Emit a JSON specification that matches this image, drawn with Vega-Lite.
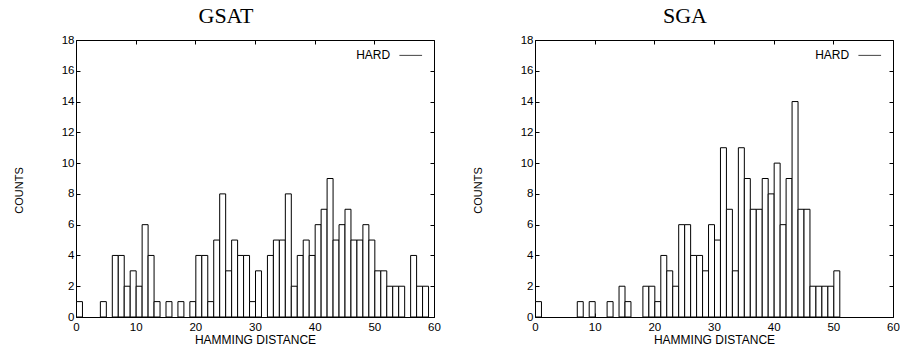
{
  "$schema": "https://vega.github.io/schema/vega-lite/v6.json",
  "background": "white",
  "padding": {"left": 12, "top": 4, "right": 0, "bottom": 0},
  "datasets": {
    "gsat": [
      {"d": 0, "n": 1}, {"d": 4, "n": 1}, {"d": 6, "n": 4}, {"d": 7, "n": 4}, {"d": 8, "n": 2},
      {"d": 9, "n": 3}, {"d": 10, "n": 2}, {"d": 11, "n": 6}, {"d": 12, "n": 4}, {"d": 13, "n": 1},
      {"d": 15, "n": 1}, {"d": 17, "n": 1}, {"d": 19, "n": 1}, {"d": 20, "n": 4}, {"d": 21, "n": 4},
      {"d": 22, "n": 1}, {"d": 23, "n": 5}, {"d": 24, "n": 8}, {"d": 25, "n": 3}, {"d": 26, "n": 5},
      {"d": 27, "n": 4}, {"d": 28, "n": 4}, {"d": 29, "n": 1}, {"d": 30, "n": 3}, {"d": 32, "n": 4},
      {"d": 33, "n": 5}, {"d": 34, "n": 5}, {"d": 35, "n": 8}, {"d": 36, "n": 2}, {"d": 37, "n": 4},
      {"d": 38, "n": 5}, {"d": 39, "n": 4}, {"d": 40, "n": 6}, {"d": 41, "n": 7}, {"d": 42, "n": 9},
      {"d": 43, "n": 5}, {"d": 44, "n": 6}, {"d": 45, "n": 7}, {"d": 46, "n": 5}, {"d": 47, "n": 5},
      {"d": 48, "n": 6}, {"d": 49, "n": 5}, {"d": 50, "n": 3}, {"d": 51, "n": 3}, {"d": 52, "n": 2},
      {"d": 53, "n": 2}, {"d": 54, "n": 2}, {"d": 56, "n": 4}, {"d": 57, "n": 2}, {"d": 58, "n": 2}
    ],
    "sga": [
      {"d": 0, "n": 1}, {"d": 7, "n": 1}, {"d": 9, "n": 1}, {"d": 12, "n": 1}, {"d": 14, "n": 2},
      {"d": 15, "n": 1}, {"d": 18, "n": 2}, {"d": 19, "n": 2}, {"d": 20, "n": 1}, {"d": 21, "n": 4},
      {"d": 22, "n": 3}, {"d": 23, "n": 2}, {"d": 24, "n": 6}, {"d": 25, "n": 6}, {"d": 26, "n": 4},
      {"d": 27, "n": 4}, {"d": 28, "n": 3}, {"d": 29, "n": 6}, {"d": 30, "n": 5}, {"d": 31, "n": 11},
      {"d": 32, "n": 7}, {"d": 33, "n": 3}, {"d": 34, "n": 11}, {"d": 35, "n": 9}, {"d": 36, "n": 7},
      {"d": 37, "n": 7}, {"d": 38, "n": 9}, {"d": 39, "n": 8}, {"d": 40, "n": 10}, {"d": 41, "n": 6},
      {"d": 42, "n": 9}, {"d": 43, "n": 14}, {"d": 44, "n": 7}, {"d": 45, "n": 7}, {"d": 46, "n": 2},
      {"d": 47, "n": 2}, {"d": 48, "n": 2}, {"d": 49, "n": 2}, {"d": 50, "n": 3}
    ]
  },
  "config": {
    "view": {"stroke": "black", "strokeWidth": 1},
    "font": "Liberation Sans",
    "axis": {
      "grid": false, "domain": false, "tickColor": "black", "tickSize": -4, "tickWidth": 1,
      "labelFlush": false, "labelOverlap": false,
      "labelFont": "Liberation Sans", "labelFontSize": 11.5, "labelColor": "black",
      "titleFont": "Liberation Sans", "titleFontSize": 12, "titleFontWeight": "normal", "titleColor": "black"
    },
    "axisY": {"titleFontSize": 11},
    "title": {"font": "Liberation Serif", "fontSize": 22, "fontWeight": "normal", "color": "black"}
  },
  "bounds": "flush",
  "spacing": 101,
  "hconcat": [
    {
      "title": {"text": "GSAT", "dx": -29, "offset": 6},
      "width": 358, "height": 277,
      "data": {"name": "gsat"},
      "layer": [
        {
          "mark": {"type": "bar", "fill": "white", "stroke": "black", "strokeWidth": 1, "binSpacing": 0},
          "encoding": {
            "x": {"field": "d", "type": "quantitative", "bin": {"binned": true, "step": 1},
                  "scale": {"domain": [0, 60], "nice": false, "padding": 0},
                  "axis": {"title": "HAMMING DISTANCE", "values": [0, 10, 20, 30, 40, 50, 60], "labelFlush": false, "labelPadding": 8, "titlePadding": 2}},
            "y": {"field": "n", "type": "quantitative", "scale": {"domain": [0, 18], "nice": false, "padding": 0},
                  "axis": {"title": "COUNTS", "values": [0, 2, 4, 6, 8, 10, 12, 14, 16, 18], "labelFlush": false, "labelPadding": 6, "titlePadding": 37, "titleY": 150}}
          }
        },
        {
          "mark": {"type": "bar", "opacity": 0, "binSpacing": 0},
          "encoding": {
            "x": {"field": "d", "type": "quantitative", "bin": {"binned": true, "step": 1},
                  "axis": {"orient": "top", "title": null, "labels": false, "values": [0, 10, 20, 30, 40, 50, 60]}},
            "y": {"field": "n", "type": "quantitative",
                  "axis": {"orient": "right", "title": null, "labels": false, "values": [0, 2, 4, 6, 8, 10, 12, 14, 16, 18]}}
          }
        },
        {
          "data": {"values": [{"series": "HARD"}]},
          "mark": {"type": "text", "align": "right", "baseline": "middle", "fontSize": 12, "font": "Liberation Sans", "color": "black"},
          "encoding": {
            "text": {"field": "series"},
            "x": {"datum": 52.66, "type": "quantitative", "axis": null},
            "y": {"datum": 17.0, "type": "quantitative", "axis": null}
          }
        },
        {
          "data": {"values": [{"series": "HARD"}]},
          "mark": {"type": "rule", "color": "#444", "strokeWidth": 1},
          "encoding": {
            "x": {"datum": 54.2, "type": "quantitative", "axis": null},
            "x2": {"datum": 58.0},
            "y": {"datum": 17.0, "type": "quantitative", "axis": null}
          }
        }
      ],
      "resolve": {"axis": {"x": "independent", "y": "independent"}}
    },
    {
      "title": {"text": "SGA", "dx": -29, "offset": 6},
      "width": 358, "height": 277,
      "data": {"name": "sga"},
      "layer": [
        {
          "mark": {"type": "bar", "fill": "white", "stroke": "black", "strokeWidth": 1, "binSpacing": 0},
          "encoding": {
            "x": {"field": "d", "type": "quantitative", "bin": {"binned": true, "step": 1},
                  "scale": {"domain": [0, 60], "nice": false, "padding": 0},
                  "axis": {"title": "HAMMING DISTANCE", "values": [0, 10, 20, 30, 40, 50, 60], "labelFlush": false, "labelPadding": 8, "titlePadding": 2}},
            "y": {"field": "n", "type": "quantitative", "scale": {"domain": [0, 18], "nice": false, "padding": 0},
                  "axis": {"title": "COUNTS", "values": [0, 2, 4, 6, 8, 10, 12, 14, 16, 18], "labelFlush": false, "labelPadding": 6, "titlePadding": 37, "titleY": 150}}
          }
        },
        {
          "mark": {"type": "bar", "opacity": 0, "binSpacing": 0},
          "encoding": {
            "x": {"field": "d", "type": "quantitative", "bin": {"binned": true, "step": 1},
                  "axis": {"orient": "top", "title": null, "labels": false, "values": [0, 10, 20, 30, 40, 50, 60]}},
            "y": {"field": "n", "type": "quantitative",
                  "axis": {"orient": "right", "title": null, "labels": false, "values": [0, 2, 4, 6, 8, 10, 12, 14, 16, 18]}}
          }
        },
        {
          "data": {"values": [{"series": "HARD"}]},
          "mark": {"type": "text", "align": "right", "baseline": "middle", "fontSize": 12, "font": "Liberation Sans", "color": "black"},
          "encoding": {
            "text": {"field": "series"},
            "x": {"datum": 52.66, "type": "quantitative", "axis": null},
            "y": {"datum": 17.0, "type": "quantitative", "axis": null}
          }
        },
        {
          "data": {"values": [{"series": "HARD"}]},
          "mark": {"type": "rule", "color": "#444", "strokeWidth": 1},
          "encoding": {
            "x": {"datum": 54.2, "type": "quantitative", "axis": null},
            "x2": {"datum": 58.0},
            "y": {"datum": 17.0, "type": "quantitative", "axis": null}
          }
        }
      ],
      "resolve": {"axis": {"x": "independent", "y": "independent"}}
    }
  ]
}
